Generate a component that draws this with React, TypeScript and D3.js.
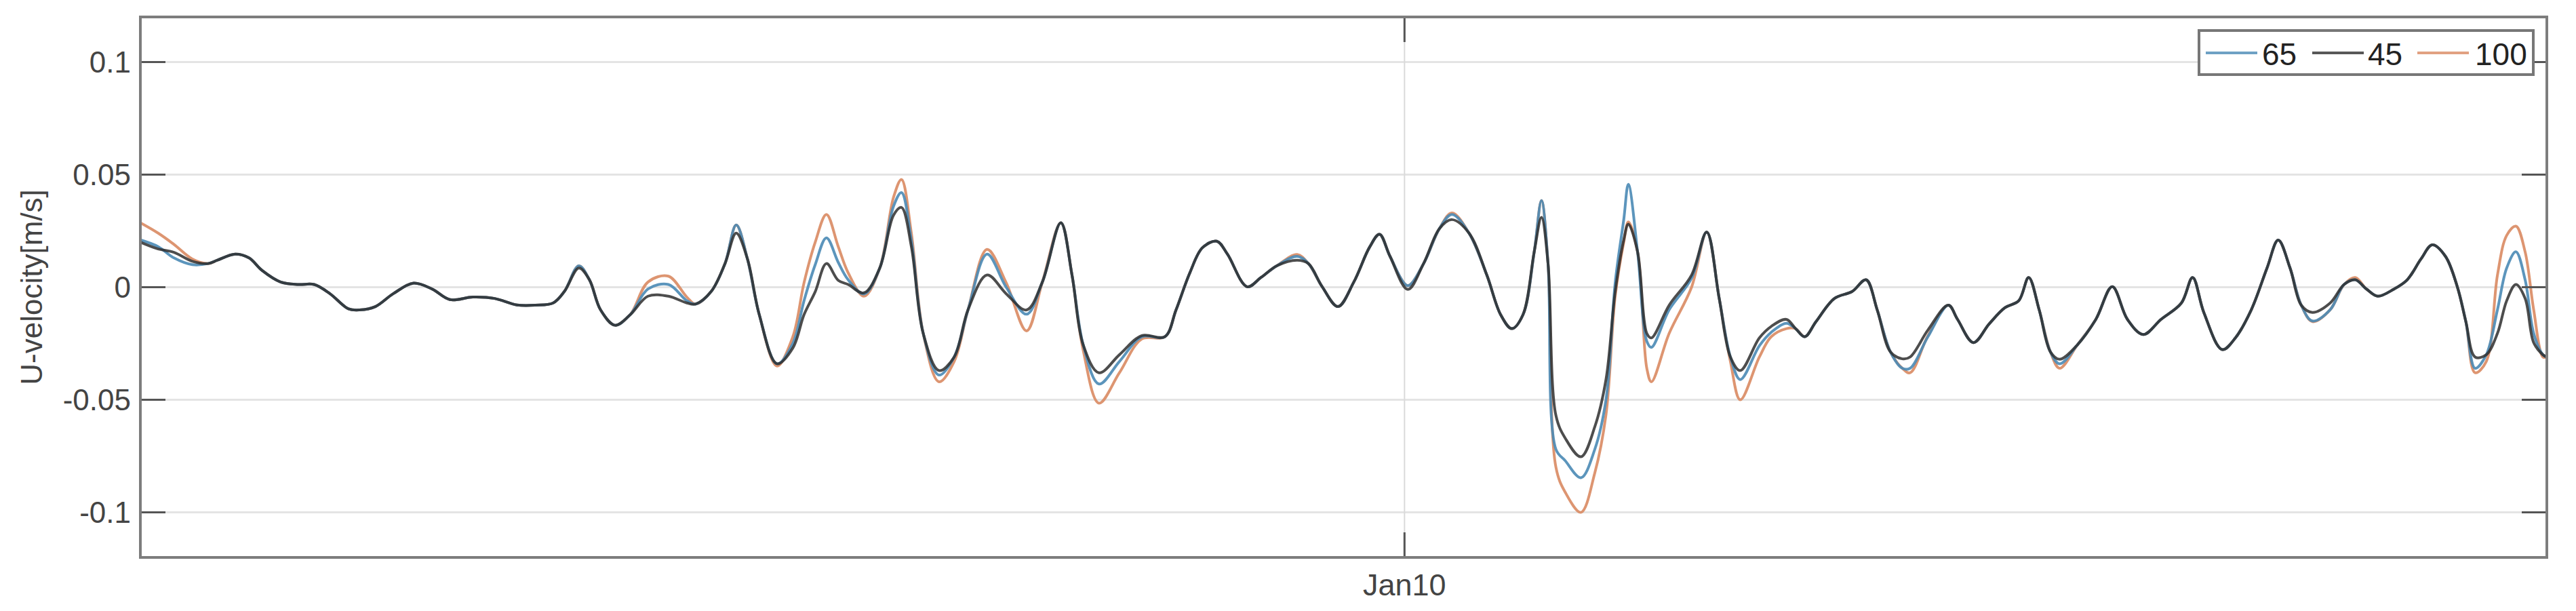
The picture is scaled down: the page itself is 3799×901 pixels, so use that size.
import React, { useEffect } from "react";
import { scaleLinear, scaleTime, line, curveCatmullRom, timeFormat } from "d3";

// sample times, hours after Jan 2 00:00
const hours = [
  0, 2.7, 5.1, 7.9, 10.3, 11.7, 14.4, 16.5, 18.5, 21.3, 24.0, 26.4, 28.8, 31.6, 33.3, 35.7, 38.4, 41.5, 44.3, 47.0, 50.5,
  53.8, 57.2, 60.0, 62.7, 64.4, 66.6, 68.2, 69.9, 72.1, 74.4, 77.1, 80.2, 83.0, 84.3, 86.7, 88.8, 90.5, 92.2, 94.0, 96.7, 99.1, 100.8, 102.5, 104.2, 106.0,
  107.5, 109.9, 112.3, 114.4, 115.6, 117.1, 118.9, 121.3, 123.6, 125.7, 128.6, 131.5, 134.6, 137.0, 139.8, 141.5, 143.2, 145.6, 148.7, 152.1, 155.6, 157.3, 159.4,
  161.3, 163.5, 165.1, 168.1, 170.2, 172.6, 175.7, 177.4, 179.5, 181.9, 184.3, 186.7, 188.2, 189.8, 192.5, 194.9, 197.3, 199.2, 201.8, 204.5, 206.6, 208.3, 210.0, 211.7, 212.8, 213.8,
  215.0, 216.4, 218.8, 220.9, 222.6, 224.0, 225.3, 226.0, 227.4, 228.8, 229.5, 232.2, 235.6, 237.9, 239.8, 241.5, 243.0, 245.9, 247.7, 250.0, 251.4, 252.8, 254.5, 257.3, 260.0, 262.1, 263.8, 265.8, 267.6,
  268.8, 271.5, 274.6, 276.0, 278.4, 280.8, 283.2, 285.3, 286.8, 288.4, 290.1, 291.5, 294.2, 297.0, 299.5, 301.8, 304.2, 306.9, 310.0, 311.7, 313.4,
  316.2, 318.2, 320.6, 323.0, 324.7, 326.5, 328.2, 329.9, 332.6, 334.7, 336.4, 338.1, 339.8, 342.3, 344.3, 346.4, 348.1, 350.1, 351.9, 353.2, 354.6, 356.3, 358.0, 359.4, 360.8, 362.2, 363.5, 364.9, 365.5,
];

const u65 = [
  0.021, 0.018, 0.013, 0.010, 0.0105, 0.012, 0.0147, 0.013, 0.0074, 0.0023, 0.0012, 0.0012, -0.0029, -0.0096, -0.0101, -0.0086, -0.0029, 0.0018, -0.0008, -0.0055, -0.0044,
  -0.005, -0.0079, -0.008, -0.007, -0.0019, 0.0095, 0.0033, -0.0101, -0.0169, -0.0122, -0.0008, 0.0012, -0.006, -0.0075, -0.0019, 0.0105, 0.0276, 0.0126, -0.0122, -0.034, -0.025, -0.006, 0.010, 0.0219, 0.011,
  0.0033, -0.003, 0.0085, 0.036, 0.042, 0.0209, -0.0205, -0.039, -0.031, -0.0101, 0.0147, 0.0, -0.012, 0.0023, 0.0286, 0.0054, -0.0256, -0.043, -0.033, -0.022, -0.022, -0.0101, 0.0064,
  0.0175, 0.0204, 0.0147, 0.0002, 0.0043, 0.0095, 0.0137, 0.0105, 0.0002, -0.0086, 0.0023, 0.0178, 0.0235, 0.0137, 0.0007, 0.0105, 0.026, 0.0323, 0.024, 0.0054, -0.0122, -0.0184, -0.0122, 0.0157, 0.0385, 0.0105,
  -0.072, -0.077, -0.0846, -0.072, -0.050, 0.002, 0.030, 0.0457, 0.0157, -0.024, -0.0267, -0.010, 0.004, 0.0245, -0.005, -0.031, -0.041, -0.026, -0.020, -0.016, -0.0184, -0.022, -0.0153, -0.005, -0.0019, 0.0033, -0.0101, -0.0287, -0.036,
  -0.036, -0.022, -0.008, -0.0143, -0.0246, -0.0163, -0.0091, -0.006, 0.0043, -0.0101, -0.0287, -0.034, -0.0256, -0.0143, 0.0002, -0.0143, -0.021, -0.0143, -0.007, 0.0043, -0.0112,
  -0.0277, -0.0225, -0.0101, 0.0085, 0.0209, 0.0085, -0.008, -0.015, -0.010, 0.0012, 0.0033, -0.0008, -0.004, -0.0008, 0.0033, 0.0126, 0.0188, 0.0137, 0.0002, -0.0153, -0.036, -0.030, -0.010, 0.0085, 0.0157, 0.0033, -0.0205, -0.030, -0.031,
];

const u45 = [
  0.020, 0.017, 0.0155, 0.0115, 0.0105, 0.012, 0.0147, 0.013, 0.0074, 0.0023, 0.0012, 0.0012, -0.0029, -0.0096, -0.0101, -0.0086, -0.0029, 0.0018, -0.0008, -0.0055, -0.0044,
  -0.005, -0.0079, -0.008, -0.007, -0.0019, 0.0085, 0.0033, -0.0101, -0.0169, -0.0122, -0.004, -0.004, -0.007, -0.0075, -0.0019, 0.0105, 0.024, 0.0126, -0.0122, -0.034, -0.027, -0.0122, -0.002, 0.0105, 0.003,
  0.0012, -0.0025, 0.0085, 0.032, 0.0354, 0.018, -0.0205, -0.037, -0.031, -0.0101, 0.0054, -0.0029, -0.0101, 0.0023, 0.0286, 0.0054, -0.0256, -0.038, -0.030, -0.0215, -0.022, -0.0101, 0.0064,
  0.0175, 0.0204, 0.0147, 0.0002, 0.0043, 0.0095, 0.012, 0.0105, 0.0002, -0.0086, 0.0023, 0.0178, 0.0235, 0.0137, -0.001, 0.0105, 0.026, 0.030, 0.024, 0.0054, -0.0122, -0.0184, -0.0122, 0.0157, 0.031, 0.0105,
  -0.057, -0.067, -0.0753, -0.062, -0.041, -0.002, 0.021, 0.028, 0.0157, -0.0205, -0.0225, -0.008, 0.0054, 0.0245, -0.005, -0.031, -0.037, -0.0225, -0.0174, -0.0143, -0.0184, -0.022, -0.0153, -0.005, -0.0019, 0.0033, -0.0101, -0.0287, -0.0318,
  -0.031, -0.019, -0.008, -0.0143, -0.0246, -0.0163, -0.0091, -0.006, 0.0043, -0.0101, -0.0287, -0.032, -0.0256, -0.0143, 0.0002, -0.0143, -0.021, -0.0143, -0.007, 0.0043, -0.0112,
  -0.0277, -0.0225, -0.0101, 0.0085, 0.0209, 0.0085, -0.008, -0.0112, -0.007, 0.0012, 0.0033, -0.0008, -0.004, -0.0008, 0.0033, 0.0126, 0.0188, 0.0137, 0.0002, -0.0153, -0.031, -0.030, -0.0205, -0.006, 0.0012, -0.005, -0.0246, -0.030, -0.031,
];

const u100 = [
  0.0286, 0.024, 0.019, 0.0125, 0.0105, 0.012, 0.0147, 0.013, 0.0074, 0.0023, 0.0012, 0.0012, -0.0029, -0.0096, -0.0101, -0.0086, -0.0029, 0.0018, -0.0008, -0.0055, -0.0044,
  -0.005, -0.0079, -0.008, -0.007, -0.0019, 0.0095, 0.0033, -0.0101, -0.0169, -0.0122, 0.0023, 0.0049, -0.0044, -0.0075, -0.0019, 0.0105, 0.0276, 0.0126, -0.0122, -0.035, -0.022, 0.002, 0.020, 0.0323, 0.018,
  0.0064, -0.004, 0.0085, 0.040, 0.0478, 0.024, -0.0205, -0.042, -0.033, -0.0101, 0.0168, 0.002, -0.0194, 0.0023, 0.0286, 0.0054, -0.028, -0.0515, -0.038, -0.023, -0.022, -0.0101, 0.0064,
  0.0175, 0.0204, 0.0147, 0.0002, 0.0043, 0.0095, 0.0145, 0.0105, 0.0002, -0.0086, 0.0023, 0.0178, 0.0235, 0.0137, 0.0007, 0.0105, 0.026, 0.033, 0.024, 0.0054, -0.0122, -0.0184, -0.0122, 0.0157, 0.0385, 0.0105,
  -0.080, -0.091, -0.100, -0.0825, -0.0567, -0.004, 0.020, 0.029, 0.0157, -0.036, -0.042, -0.0205, 0.0, 0.0245, -0.005, -0.033, -0.050, -0.031, -0.022, -0.0184, -0.0184, -0.022, -0.0153, -0.005, -0.0019, 0.0033, -0.0101, -0.0287, -0.036,
  -0.038, -0.0215, -0.008, -0.0143, -0.0246, -0.0163, -0.0091, -0.006, 0.0043, -0.0101, -0.0287, -0.036, -0.0256, -0.0143, 0.0002, -0.0143, -0.021, -0.0143, -0.007, 0.0043, -0.0112,
  -0.0277, -0.0225, -0.0101, 0.0085, 0.0209, 0.0085, -0.008, -0.0153, -0.010, 0.0012, 0.0043, -0.0008, -0.004, -0.0008, 0.0033, 0.0126, 0.0188, 0.0137, 0.0002, -0.0153, -0.038, -0.033, 0.0054, 0.023, 0.0271, 0.0157, -0.010, -0.031, -0.031,
];

const seriesNames = ["65", "45", "100"];
const seriesColors = ["#4a8ab5", "#2e2e2e", "#d98a62"];
const yTicks = [-0.1, -0.05, 0, 0.05, 0.1];
const xTickDates = [new Date(2020, 0, 10)];

const startTime = new Date(2020, 0, 2);
const endTime = new Date(startTime.getTime() + 365.5 * 3600 * 1000);
const toDate = (h: number) => new Date(startTime.getTime() + h * 3600 * 1000);

const W = 3799;
const H = 901;
const left = 207, right = 3756, top = 25, bottom = 822;
const tickLen = 37;
const font = "'Liberation Sans', Arial, Helvetica, sans-serif";

export default function App() {
  useEffect(() => {
    document.body.style.margin = "0";
  }, []);

  const x = scaleTime().domain([startTime, endTime]).range([left, right]);
  const y = scaleLinear().domain([-0.12, 0.12]).range([bottom, top]);

  const path = line<[number, number]>()
    .x(d => x(toDate(d[0])))
    .y(d => y(d[1]))
    .curve(curveCatmullRom.alpha(0.5));

  const series = [u65, u45, u100].map(vals => hours.map((h, i) => [h, vals[i]] as [number, number]));
  // draw order: orange under, then blue, black on top
  const drawOrder = [2, 0, 1];
  const fmt = timeFormat("%b%d");

  const legendX = 3243, legendY = 45, legendW = 493, legendH = 65;
  const legendItems = [
    { lx: 3253, tx: 3336 },
    { lx: 3410, tx: 3492 },
    { lx: 3565, tx: 3650 },
  ];

  return (
    <svg width={W} height={H} style={{ display: "block", background: "#fff" }} fontFamily={font}>
      {/* grid */}
      {yTicks.map(t => (
        <line key={"g" + t} x1={left} x2={right} y1={y(t)} y2={y(t)} stroke="#e4e4e4" strokeWidth={3} />
      ))}
      {xTickDates.map(d => (
        <line key={"gx" + d.getTime()} x1={x(d)} x2={x(d)} y1={top} y2={bottom} stroke="#dadada" strokeWidth={2} />
      ))}

      {/* data */}
      {drawOrder.map(i => (
        <path key={seriesNames[i]} d={path(series[i]) || ""} fill="none" stroke={seriesColors[i]}
          strokeWidth={4} strokeOpacity={i === 1 ? 0.85 : 0.9} strokeLinejoin="round" />
      ))}

      {/* ticks */}
      {yTicks.map(t => (
        <g key={"t" + t} stroke="#555" strokeWidth={3}>
          <line x1={left} x2={left + tickLen} y1={y(t)} y2={y(t)} />
          <line x1={right - tickLen} x2={right} y1={y(t)} y2={y(t)} />
        </g>
      ))}
      {xTickDates.map(d => (
        <g key={"tx" + d.getTime()} stroke="#555" strokeWidth={3}>
          <line x1={x(d)} x2={x(d)} y1={bottom} y2={bottom - tickLen} />
          <line x1={x(d)} x2={x(d)} y1={top} y2={top + tickLen} />
        </g>
      ))}

      {/* axes box */}
      <rect x={left} y={top} width={right - left} height={bottom - top} fill="none" stroke="#7d7d7d" strokeWidth={4} />

      {/* tick labels */}
      {yTicks.map(t => (
        <text key={"l" + t} x={193} y={y(t)} textAnchor="end" dominantBaseline="central" fontSize={44} fill="#444">
          {String(t)}
        </text>
      ))}
      {xTickDates.map(d => (
        <text key={"lx" + d.getTime()} x={x(d)} y={878} textAnchor="middle" fontSize={45} fill="#444">
          {fmt(d)}
        </text>
      ))}

      {/* y label */}
      <text transform={`translate(62, ${y(0)}) rotate(-90)`} textAnchor="middle" fontSize={44} fill="#444">
        U-velocity[m/s]
      </text>

      {/* legend */}
      <rect x={legendX} y={legendY} width={legendW} height={legendH} fill="#fff" stroke="#777" strokeWidth={4} />
      {legendItems.map((it, i) => (
        <g key={"leg" + i}>
          <line x1={it.lx} x2={it.lx + 76} y1={78} y2={78} stroke={seriesColors[i]} strokeWidth={4} strokeOpacity={0.8} />
          <text x={it.tx} y={96} fontSize={46} fill="#222">{seriesNames[i]}</text>
        </g>
      ))}
    </svg>
  );
}
